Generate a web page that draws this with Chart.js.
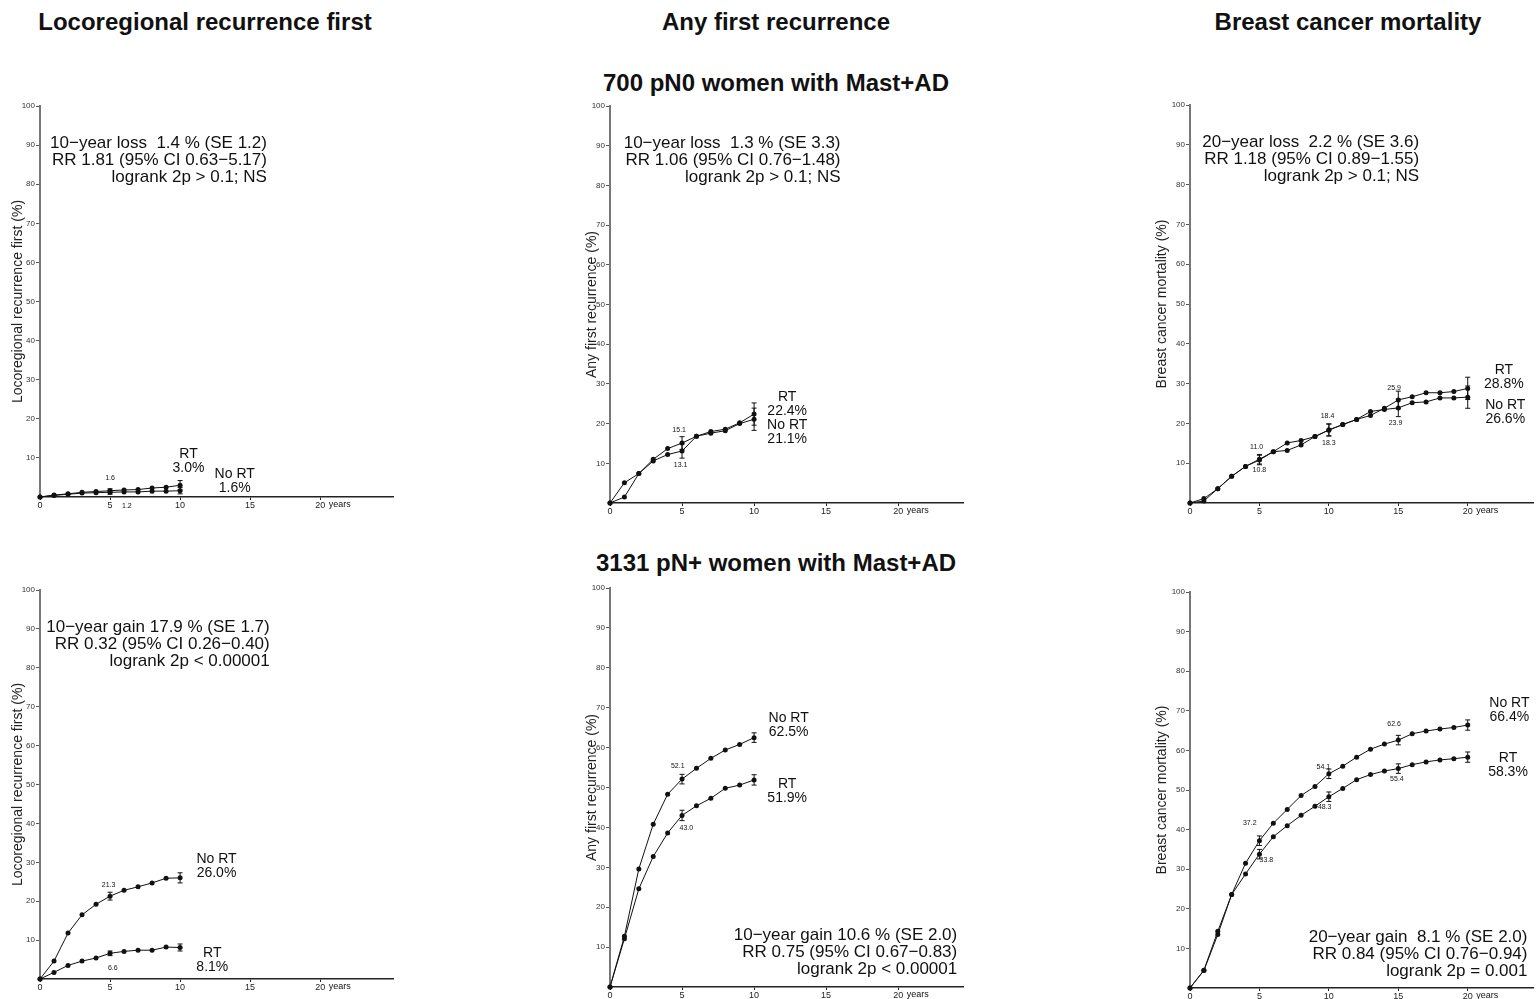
<!DOCTYPE html>
<html>
<head>
<meta charset="utf-8">
<script src="https://cdn.jsdelivr.net/npm/chart.js@4.4.1/dist/chart.umd.min.js"></script>
<style>
  body { margin: 0; background: #fff; width: 1538px; height: 999px; position: relative; overflow: hidden; font-family: Arial, "Liberation Sans", sans-serif; }
  canvas { position: absolute; }
  .head { position: absolute; width: 600px; text-align: center; font-weight: bold; font-size: 24px; line-height: 28px; color: #111; }
</style>
</head>
<body>
<div class="head" style="left:-95px;top:8px">Locoregional recurrence first</div>
<div class="head" style="left:476px;top:8px">Any first recurrence</div>
<div class="head" style="left:1048px;top:8px">Breast cancer mortality</div>
<div class="head" style="left:476px;top:69px">700 pN0 women with Mast+AD</div>
<div class="head" style="left:476px;top:549px">3131 pN+ women with Mast+AD</div>

<script>
// years of follow-up
const yearsTen = [0, 1, 2, 3, 4, 5, 6, 7, 8, 9, 10];
const yearsTwenty = [0, 1, 2, 3, 4, 5, 6, 7, 8, 9, 10, 11, 12, 13, 14, 15, 16, 17, 18, 19, 20];

// 700 pN0 women
const pN0LocoRT = [0, 0.5, 0.8, 1.2, 1.4, 1.6, 1.8, 1.9, 2.3, 2.5, 3.0];
const pN0LocoNoRT = [0, 0.4, 0.7, 1.0, 1.1, 1.2, 1.3, 1.3, 1.5, 1.5, 1.6];
const pN0AnyRT = [0, 5.1, 7.4, 11.0, 13.7, 15.1, 16.8, 18.0, 18.6, 20.2, 22.4];
const pN0AnyNoRT = [0, 1.5, 7.4, 10.6, 12.2, 13.1, 16.8, 17.6, 18.2, 20.0, 21.1];
const pN0MortRT = [0, 1.1, 3.6, 6.7, 9.2, 11.0, 12.9, 13.2, 14.6, 16.7, 18.4, 19.7, 21.0, 22.0, 23.8, 25.9, 26.7, 27.7, 27.7, 28.0, 28.8];
const pN0MortNoRT = [0, 0.5, 3.6, 6.7, 9.2, 10.8, 12.9, 15.1, 15.7, 16.7, 18.3, 19.7, 21.0, 23.0, 23.5, 23.9, 25.2, 25.4, 26.4, 26.4, 26.6];

// 3131 pN+ women
const pNpLocoRT = [0, 1.7, 3.5, 4.6, 5.4, 6.6, 7.1, 7.4, 7.4, 8.2, 8.1];
const pNpLocoNoRT = [0, 4.6, 11.8, 16.5, 19.2, 21.3, 22.8, 23.7, 24.7, 25.9, 26.0];
const pNpAnyRT = [0, 12.1, 24.6, 32.7, 38.6, 43.0, 45.4, 47.3, 49.8, 50.6, 51.9];
const pNpAnyNoRT = [0, 12.7, 29.6, 40.8, 48.3, 52.1, 54.8, 57.3, 59.4, 60.8, 62.5];
const pNpMortRT = [0, 4.4, 13.5, 23.6, 28.8, 33.8, 38.2, 41.0, 43.6, 45.9, 48.3, 50.4, 52.6, 53.9, 54.8, 55.4, 56.4, 57.1, 57.6, 57.9, 58.3];
const pNpMortNoRT = [0, 4.5, 14.3, 23.6, 31.5, 37.2, 41.6, 45.1, 48.6, 50.9, 54.1, 56.0, 58.3, 60.3, 61.6, 62.6, 64.2, 64.9, 65.4, 65.8, 66.4];

// standard errors drawn as bars
const errYearsTen = [5, 10];
const errYearsTwenty = [5, 10, 15, 20];
const pN0LocoSE = { rt: [0.5, 1.2], noRt: [0.5, 0.8] };
const pN0AnySE = { rt: [1.6, 2.8], noRt: [1.8, 2.8] };
const pN0MortSE = { rt: [1.2, 1.5, 2.2, 2.8], noRt: [1.2, 1.5, 2.2, 2.8] };
const pNpLocoSE = { rt: [0.6, 0.9], noRt: [1.0, 1.3] };
const pNpAnySE = { rt: [1.3, 1.3], noRt: [1.2, 1.2] };
const pNpMortSE = { rt: [1.2, 1.2, 1.2, 1.3], noRt: [1.2, 1.2, 1.2, 1.3] };

const xTickLabels = ['0', '5', '10', '15', '20'];

const FONT = 'Arial, "Liberation Sans", sans-serif';
const INK = '#111';

const panels = [
  {
    box: { L: 40, T: 106, R: 393, B: 497, yw: 32 }, xMax: 25.2,
    yTitle: 'Locoregional recurrence first (%)',
    years: yearsTen, rt: pN0LocoRT, noRt: pN0LocoNoRT, errYears: errYearsTen, se: pN0LocoSE,
    stats: { x: 16.2, y: 90.5, lines: ['10\u2212year loss  1.4 % (SE 1.2)', 'RR 1.81 (95% CI 0.63\u22125.17)', 'logrank 2p > 0.1; NS'] },
    ends: [{ x: 10.6, y: 11.0, lines: ['RT', '3.0%'] }, { x: 13.9, y: 5.9, lines: ['No RT', '1.6%'] }],
    small: [{ x: 5.0, y: 4.9, t: '1.6' }, { x: 6.2, y: -2.3, t: '1.2' }]
  },
  {
    box: { L: 610, T: 106, R: 963, B: 503, yw: 28 }, xMax: 24.5,
    yTitle: 'Any first recurrence (%)',
    years: yearsTen, rt: pN0AnyRT, noRt: pN0AnyNoRT, errYears: errYearsTen, se: pN0AnySE,
    stats: { x: 16.0, y: 90.7, lines: ['10\u2212year loss  1.3 % (SE 3.3)', 'RR 1.06 (95% CI 0.76\u22121.48)', 'logrank 2p > 0.1; NS'] },
    ends: [{ x: 12.3, y: 26.7, lines: ['RT', '22.4%', 'No RT', '21.1%'] }],
    small: [{ x: 4.8, y: 18.4, t: '15.1' }, { x: 4.9, y: 9.6, t: '13.1' }]
  },
  {
    box: { L: 1190, T: 105, R: 1533, B: 503, yw: 38 }, xMax: 24.7,
    yTitle: 'Breast cancer mortality (%)',
    years: yearsTwenty, rt: pN0MortRT, noRt: pN0MortNoRT, errYears: errYearsTwenty, se: pN0MortSE,
    stats: { x: 16.5, y: 90.5, lines: ['20\u2212year loss  2.2 % (SE 3.6)', 'RR 1.18 (95% CI 0.89\u22121.55)', 'logrank 2p > 0.1; NS'] },
    ends: [{ x: 22.6, y: 33.4, lines: ['RT', '28.8%'] }, { x: 22.7, y: 24.6, lines: ['No RT', '26.6%'] }],
    small: [{ x: 4.8, y: 14.1, t: '11.0' }, { x: 5.0, y: 8.3, t: '10.8' }, { x: 9.9, y: 21.9, t: '18.4' },
            { x: 10.0, y: 15.1, t: '18.3' }, { x: 14.7, y: 28.9, t: '25.9' }, { x: 14.8, y: 20.1, t: '23.9' }]
  },
  {
    box: { L: 40, T: 590, R: 393, B: 979, yw: 32 }, xMax: 25.2,
    yTitle: 'Locoregional recurrence first (%)',
    years: yearsTen, rt: pNpLocoRT, noRt: pNpLocoNoRT, errYears: errYearsTen, se: pNpLocoSE,
    stats: { x: 16.4, y: 90.5, lines: ['10\u2212year gain 17.9 % (SE 1.7)', 'RR 0.32 (95% CI 0.26\u22120.40)', 'logrank 2p < 0.00001'] },
    ends: [{ x: 12.6, y: 30.8, lines: ['No RT', '26.0%'] }, { x: 12.3, y: 6.7, lines: ['RT', '8.1%'] }],
    small: [{ x: 4.9, y: 24.2, t: '21.3' }, { x: 5.2, y: 2.8, t: '6.6' }]
  },
  {
    box: { L: 610, T: 588, R: 963, B: 987, yw: 28 }, xMax: 24.5,
    yTitle: 'Any first recurrence (%)',
    years: yearsTen, rt: pNpAnyRT, noRt: pNpAnyNoRT, errYears: errYearsTen, se: pNpAnySE,
    stats: { x: 24.1, y: 13.0, lines: ['10\u2212year gain 10.6 % (SE 2.0)', 'RR 0.75 (95% CI 0.67\u22120.83)', 'logrank 2p < 0.00001'] },
    ends: [{ x: 12.4, y: 67.4, lines: ['No RT', '62.5%'] }, { x: 12.3, y: 50.9, lines: ['RT', '51.9%'] }],
    small: [{ x: 4.7, y: 55.4, t: '52.1' }, { x: 5.3, y: 39.8, t: '43.0' }]
  },
  {
    box: { L: 1190, T: 592, R: 1533, B: 988, yw: 38 }, xMax: 24.7,
    yTitle: 'Breast cancer mortality (%)',
    years: yearsTwenty, rt: pNpMortRT, noRt: pNpMortNoRT, errYears: errYearsTwenty, se: pNpMortSE,
    stats: { x: 24.3, y: 12.9, lines: ['20\u2212year gain  8.1 % (SE 2.0)', 'RR 0.84 (95% CI 0.76\u22120.94)', 'logrank 2p = 0.001'] },
    ends: [{ x: 23.0, y: 72.0, lines: ['No RT', '66.4%'] }, { x: 22.9, y: 58.1, lines: ['RT', '58.3%'] }],
    small: [{ x: 4.3, y: 41.7, t: '37.2' }, { x: 5.5, y: 32.3, t: '33.8' }, { x: 9.6, y: 55.8, t: '54.1' },
            { x: 9.7, y: 45.7, t: '48.3' }, { x: 14.7, y: 66.7, t: '62.6' }, { x: 14.9, y: 52.8, t: '55.4' }]
  }
];

// text, error bars and the "years" unit, placed through the chart's scales
const annotate = {
  id: 'annotate',
  afterDatasetsDraw(chart, args, o) {
    const ctx = chart.ctx, xs = chart.scales.x, ys = chart.scales.y;
    ctx.save();
    ctx.strokeStyle = INK;
    ctx.lineWidth = 1;
    chart.data.datasets.forEach((ds, di) => {
      const se = di === 0 ? o.se.rt : o.se.noRt;
      o.errYears.forEach((yr, k) => {
        const pt = ds.data.find(d => d.x === yr);
        const px = xs.getPixelForValue(yr);
        const lo = ys.getPixelForValue(pt.y - se[k]), hi = ys.getPixelForValue(pt.y + se[k]);
        ctx.beginPath();
        ctx.moveTo(px, lo); ctx.lineTo(px, hi);
        ctx.moveTo(px - 2.5, lo); ctx.lineTo(px + 2.5, lo);
        ctx.moveTo(px - 2.5, hi); ctx.lineTo(px + 2.5, hi);
        ctx.stroke();
      });
    });
    ctx.fillStyle = INK;
    ctx.textBaseline = 'middle';
    // statistics block
    ctx.font = '17px ' + FONT;
    ctx.textAlign = 'right';
    o.stats.lines.forEach((ln, i) => {
      ctx.fillText(ln, xs.getPixelForValue(o.stats.x), ys.getPixelForValue(o.stats.y) + i * 17);
    });
    // end-of-curve labels
    ctx.font = '14px ' + FONT;
    ctx.textAlign = 'center';
    o.ends.forEach(e => {
      e.lines.forEach((ln, i) => {
        ctx.fillText(ln, xs.getPixelForValue(e.x), ys.getPixelForValue(e.y) + i * 14);
      });
    });
    // small values at 5-year marks
    ctx.font = '7px ' + FONT;
    o.small.forEach(s => ctx.fillText(s.t, xs.getPixelForValue(s.x), ys.getPixelForValue(s.y)));
    // unit after the last x tick
    ctx.font = '9px ' + FONT;
    ctx.textAlign = 'left';
    ctx.fillText('years', xs.getPixelForValue(20) + 8.5, chart.chartArea.bottom + 8);
    ctx.restore();
  }
};

function series(years, vals) {
  return years.map((x, i) => ({ x: x, y: vals[i] }));
}

function makePanel(p) {
  const b = p.box;
  const padTop = 8, padRight = 6, xh = 22;
  const canvas = document.createElement('canvas');
  canvas.width = b.R - b.L + b.yw + padRight;
  canvas.height = b.B - b.T + padTop + xh;
  canvas.style.left = (b.L - b.yw) + 'px';
  canvas.style.top = (b.T - padTop) + 'px';
  document.body.appendChild(canvas);

  const lineDs = (label, vals) => ({
    label: label,
    data: series(p.years, vals),
    borderColor: INK,
    backgroundColor: INK,
    borderWidth: 1,
    pointRadius: 2.5,
    pointBackgroundColor: INK,
    pointBorderWidth: 0,
    tension: 0,
    clip: false
  });

  return new Chart(canvas.getContext('2d'), {
    type: 'line',
    data: { datasets: [lineDs('RT', p.rt), lineDs('No RT', p.noRt)] },
    options: {
      responsive: false,
      animation: false,
      layout: { padding: { top: padTop, right: padRight, left: 0, bottom: 0 } },
      plugins: {
        legend: { display: false },
        tooltip: { enabled: false },
        annotate: { se: p.se, errYears: p.errYears, stats: p.stats, ends: p.ends, small: p.small }
      },
      scales: {
        x: {
          type: 'linear', min: 0, max: p.xMax,
          ticks: {
            stepSize: 5, includeBounds: false, autoSkip: false, maxRotation: 0,
            padding: 0, color: '#222', font: { size: 9, family: FONT },
            callback: (v) => xTickLabels[v / 5]
          },
          afterBuildTicks: (s) => { s.ticks = s.ticks.filter(t => t.value <= 20); },
          afterFit: (s) => { s.height = xh; },
          grid: { drawOnChartArea: false, drawTicks: true, tickLength: 3, color: '#222' },
          border: { color: '#222', width: 1.5 }
        },
        y: {
          min: 0, max: 100,
          ticks: { stepSize: 10, padding: 1, color: '#333', font: { size: 8, family: FONT } },
          afterBuildTicks: (s) => { s.ticks = s.ticks.filter(t => t.value > 0); },
          afterFit: (s) => { s.width = b.yw; },
          grid: { drawOnChartArea: false, drawTicks: true, tickLength: 4, color: '#555' },
          border: { color: '#777', width: 2 },
          title: { display: true, text: p.yTitle, color: '#222', font: { size: 14, family: FONT }, padding: { top: 2, bottom: 2 } }
        }
      }
    },
    plugins: [annotate]
  });
}

panels.forEach(makePanel);
</script>
</body>
</html>
